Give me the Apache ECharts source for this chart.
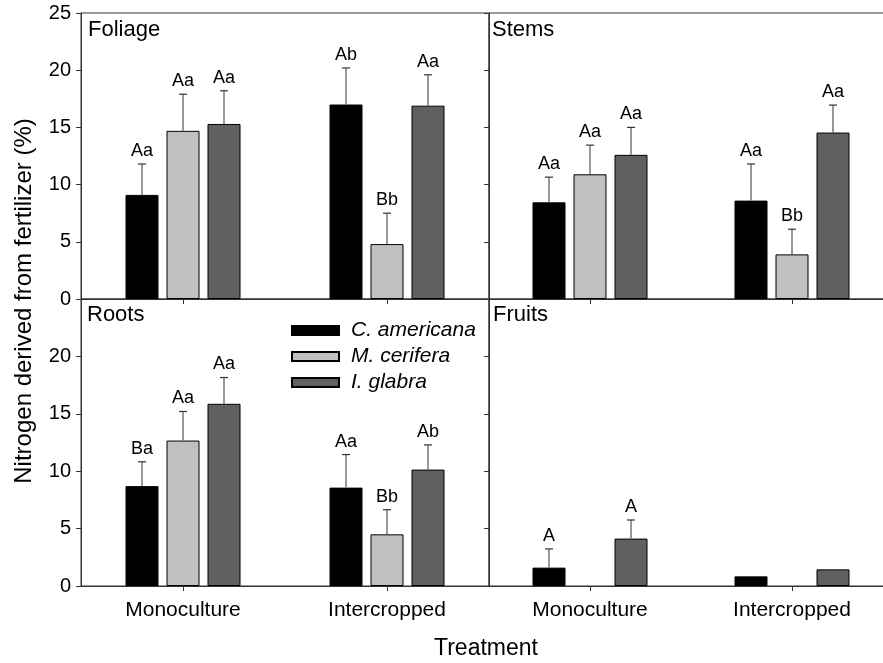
<!DOCTYPE html>
<html>
<head>
<meta charset="utf-8">
<script src="https://cdn.jsdelivr.net/npm/echarts@6/dist/echarts.min.js"></script>
<style>html,body{margin:0;padding:0;background:#fff;overflow:hidden;}#c{width:900px;height:663px;}</style>
</head>
<body>
<div id="c"></div>
<script>
// ---------- data ----------
const categories = ['Monoculture', 'Intercropped'];
const speciesNames = ['C. americana', 'M. cerifera', 'I. glabra'];
const panelNames = ['Foliage', 'Stems', 'Roots', 'Fruits'];
const yTicks = [0, 5, 10, 15, 20, 25];

// per species: [Monoculture, Intercropped]
const foliageMeans = [[9.1, 17.0], [14.7, 4.8], [15.3, 16.9]];
const foliageErr = [[2.7, 3.2], [3.2, 2.7], [2.9, 2.7]];
const foliageLetters = [['Aa', 'Ab'], ['Aa', 'Bb'], ['Aa', 'Aa']];

const stemsMeans = [[8.45, 8.6], [10.9, 3.9], [12.6, 14.55]];
const stemsErr = [[2.2, 3.2], [2.55, 2.2], [2.4, 2.4]];
const stemsLetters = [['Aa', 'Aa'], ['Aa', 'Bb'], ['Aa', 'Aa']];

const rootsMeans = [[8.7, 8.57], [12.67, 4.5], [15.87, 10.14]];
const rootsErr = [[2.12, 2.88], [2.53, 2.15], [2.29, 2.15]];
const rootsLetters = [['Ba', 'Aa'], ['Aa', 'Bb'], ['Aa', 'Ab']];

const fruitsMeans = [[1.6, 0.84], [null, null], [4.13, 1.45]];
const fruitsErr = [[1.63, 0], [null, null], [1.62, 0]];
const fruitsLetters = [['A', ''], ['', ''], ['A', '']];

// ---------- style ----------
const colors = ['#000000', '#c0c0c0', '#606060'];
const BAR_W = 33, BAR_GAP = 8;
const FONT = 'Liberation Sans, Arial, sans-serif';
const AX = '#333333';

const panels = [
  { means: foliageMeans, err: foliageErr, letters: foliageLetters },
  { means: stemsMeans, err: stemsErr, letters: stemsLetters },
  { means: rootsMeans, err: rootsErr, letters: rootsLetters },
  { means: fruitsMeans, err: fruitsErr, letters: fruitsLetters }
];

const grids = [
  { left: 81, top: 13, width: 408, height: 286 },
  { left: 489, top: 13, width: 404, height: 286 },
  { left: 81, top: 299, width: 408, height: 287 },
  { left: 489, top: 299, width: 404, height: 287 }
];

const xAxes = grids.map((g, i) => ({
  type: 'category', gridIndex: i, data: categories,
  axisLine: { show: true, lineStyle: { color: AX, width: 1 } },
  axisTick: { show: true, alignWithLabel: true, length: 5, lineStyle: { color: AX } },
  axisLabel: { show: i >= 2, color: '#000', fontSize: 21, fontFamily: FONT, margin: 14 },
  splitLine: { show: false }
}));

const yAxes = grids.map((g, i) => ({
  type: 'value', gridIndex: i, min: yTicks[0], max: yTicks[yTicks.length - 1], interval: 5,
  axisLine: { show: true, lineStyle: { color: AX, width: 1 } },
  axisTick: { show: true, length: 5, lineStyle: { color: AX } },
  axisLabel: {
    show: i % 2 === 0, color: '#000', fontSize: 20, fontFamily: FONT, margin: 10,
    formatter: v => (i === 2 && v === 25) ? '' : String(v)
  },
  splitLine: { show: false }
}));

const series = [];
panels.forEach((p, pi) => {
  speciesNames.forEach((name, si) => {
    series.push({
      type: 'bar', name: name, xAxisIndex: pi, yAxisIndex: pi,
      data: p.means[si], barWidth: BAR_W, barGap: (BAR_GAP / BAR_W * 100) + '%',
      itemStyle: { color: colors[si], borderColor: '#000', borderWidth: 1 },
      emphasis: { disabled: true }, z: 2
    });
  });
  const errData = [];
  const letterList = [];
  speciesNames.forEach((name, si) => {
    categories.forEach((c, ci) => {
      if (p.means[si][ci] == null) return;
      errData.push([ci, p.means[si][ci], p.err[si][ci] || 0, si]);
      letterList.push(p.letters[si][ci]);
    });
  });
  series.push({
    type: 'custom', xAxisIndex: pi, yAxisIndex: pi, data: errData, z: 3, silent: true,
    renderItem: function (params, api) {
      const ci = api.value(0), m = api.value(1), e = api.value(2), si = api.value(3);
      const off = (si - 1) * (BAR_W + BAR_GAP);
      const base = api.coord([ci, m]);
      const x = base[0] + off;
      const top = api.coord([ci, m + e])[1];
      const children = [];
      if (e > 0) {
        children.push({ type: 'line', shape: { x1: x, y1: base[1], x2: x, y2: top }, style: { stroke: '#555', lineWidth: 1.2 } });
        children.push({ type: 'line', shape: { x1: x - 4, y1: top, x2: x + 4, y2: top }, style: { stroke: '#333', lineWidth: 1.2 } });
      }
      const lt = letterList[params.dataIndex];
      if (lt) {
        children.push({ type: 'text', style: { text: lt, x: x, y: top - 4, align: 'center', verticalAlign: 'bottom', fontSize: 18, fontFamily: FONT, fill: '#000' } });
      }
      return { type: 'group', children: children };
    }
  });
});

const titles = [
  { text: panelNames[0], left: 88, top: 19 },
  { text: panelNames[1], left: 492, top: 19 },
  { text: panelNames[2], left: 87, top: 304 },
  { text: panelNames[3], left: 493, top: 304 }
].map(t => ({ text: t.text, left: t.left, top: t.top, padding: 0, textStyle: { fontSize: 22, fontWeight: 'normal', color: '#000', fontFamily: FONT } }));

const option = {
  animation: false,
  backgroundColor: '#fff',
  title: titles,
  grid: grids.map(g => Object.assign({ show: true, borderColor: AX, borderWidth: 1, backgroundColor: 'transparent', containLabel: false }, g)),
  xAxis: xAxes,
  yAxis: yAxes,
  legend: {
    data: speciesNames, orient: 'vertical', left: 291, top: 320, padding: 0,
    itemWidth: 47, itemHeight: 9, itemGap: 5, selectedMode: false, icon: 'rect',
    textStyle: { fontSize: 21, fontStyle: 'italic', color: '#000', fontFamily: FONT, padding: [0, 0, 0, 7] }
  },
  graphic: [
    { type: 'text', x: 486, y: 649, style: { text: 'Treatment', fontSize: 23, fontFamily: FONT, fill: '#000', align: 'center', verticalAlign: 'middle' } },
    { type: 'text', rotation: Math.PI / 2, x: 24, y: 301, style: { text: 'Nitrogen derived from fertilizer (%)', fontSize: 24, fontFamily: FONT, fill: '#000', align: 'center', verticalAlign: 'middle' } }
  ],
  series: series
};

const chart = echarts.init(document.getElementById('c'), null, { renderer: 'canvas' });
chart.setOption(option);
</script>
</body>
</html>
